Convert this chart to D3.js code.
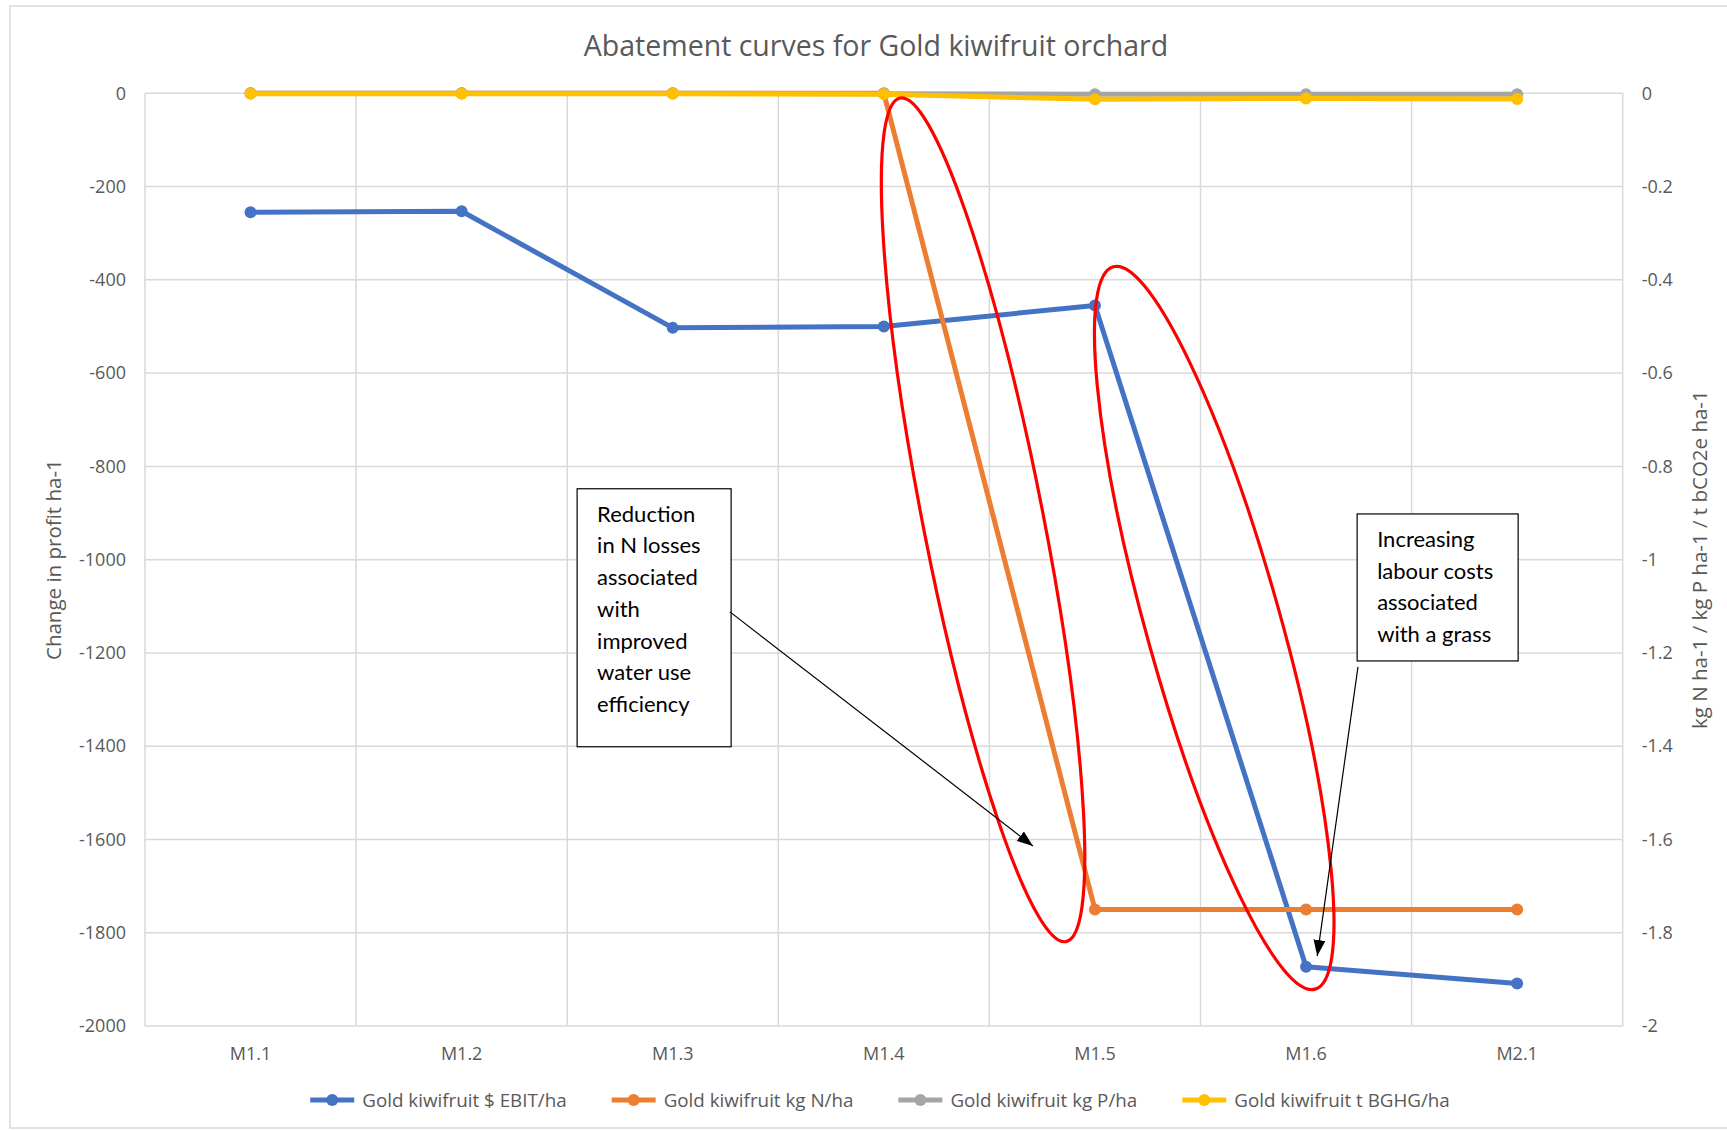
<!DOCTYPE html>
<html>
<head>
<meta charset="utf-8">
<script src="https://cdn.jsdelivr.net/npm/d3@7"></script>
<style>
body { margin: 0; background: #fff; }
text { font-family: "Open Sans", sans-serif; }
</style>
</head>
<body>
<svg id="chart" width="1727" height="1131"></svg>
<script>
var categories = ["M1.1", "M1.2", "M1.3", "M1.4", "M1.5", "M1.6", "M2.1"];
var ebit = [-255, -253, -503, -500, -455, -1873, -1909];
var kgN = [0, 0, 0, 0, -1.75, -1.75, -1.75];
var kgP = [0, 0, 0, -0.001, -0.002, -0.002, -0.002];
var bghg = [-0.001, -0.001, -0.001, -0.002, -0.013, -0.011, -0.012];
var leftTicks = d3.range(0, -2001, -200);
var rightTicks = d3.range(0, 11).map(i => -i / 5);
var seriesNames = ["Gold kiwifruit $ EBIT/ha", "Gold kiwifruit kg N/ha", "Gold kiwifruit kg P/ha", "Gold kiwifruit t BGHG/ha"];
var seriesColors = ["#4472C4", "#ED7D31", "#A5A5A5", "#FFC000"];
var chartTitle = "Abatement curves for Gold kiwifruit orchard";
var leftTitle = "Change in profit ha-1";
var rightTitle = "kg N ha-1 / kg P ha-1 / t bCO2e ha-1";

// hand drawn notes, placed in category index / left axis units
var notes = [
    {lines: ["Reduction", "in N losses", "associated", "with", "improved", "water use", "efficiency"],
     at: [1.547, -848], w: 154, h: 258, from: [2.271, -1112], to: [3.706, -1614]},
    {lines: ["Increasing", "labour costs", "associated", "with a grass"],
     at: [5.242, -902], w: 161, h: 147, from: [5.246, -1230], to: [5.053, -1850]}
];
var rings = [
    {top: [3.077, -10], bottom: [3.863, -1819], half: 60},
    {top: [4.087, -372], bottom: [5.043, -1921], half: 67}
];

var W = 1727, H = 1131;
var plotL = 145, plotR = 1622.7, plotT = 93.3, plotB = 1026;
var grey = "#d9d9d9", ink = "#595959";

var svg = d3.select("#chart");
svg.append("rect")
    .attr("x", 10).attr("y", 6)
    .attr("width", W).attr("height", H - 9)
    .style("fill", "white").style("stroke", grey).style("stroke-width", 1.5);

var x = d3.scaleBand(categories, [plotL, plotR]);
var xi = d3.scaleLinear([0, categories.length - 1],
			[x(categories[0]) + x.bandwidth() / 2, x(categories[categories.length - 1]) + x.bandwidth() / 2]);
var yL = d3.scaleLinear([-2000, 0], [plotB, plotT]);
var yR = d3.scaleLinear([-2, 0], [plotB, plotT]);

// grid
svg.append("g").selectAll("line")
    .data(leftTicks)
    .join("line")
    .attr("x1", plotL).attr("x2", plotR)
    .attr("y1", d => yL(d)).attr("y2", d => yL(d))
    .style("stroke", grey).style("stroke-width", 1.5);
svg.append("g").selectAll("line")
    .data(categories.map(c => x(c)).concat([plotR]))
    .join("line")
    .attr("x1", d => d).attr("x2", d => d)
    .attr("y1", plotT).attr("y2", plotB)
    .style("stroke", grey).style("stroke-width", 1.5);

function tidy(g) {
    g.select(".domain").remove();
    g.attr("font-family", null);
    g.selectAll("text").style("fill", ink).style("font-size", "18px");
}
svg.append("g")
    .attr("transform", "translate(" + plotL + ",0)")
    .call(d3.axisLeft(yL).tickValues(leftTicks).tickFormat(d => String(d)).tickSize(0).tickPadding(19))
    .call(tidy);
svg.append("g")
    .attr("transform", "translate(" + plotR + ",0)")
    .call(d3.axisRight(yR).tickValues(rightTicks).tickFormat(d => String(+d.toFixed(1))).tickSize(0).tickPadding(19))
    .call(tidy);
svg.append("g")
    .attr("transform", "translate(0," + plotB + ")")
    .call(d3.axisBottom(x).tickSize(0).tickPadding(21))
    .call(tidy);

svg.append("text")
    .attr("x", 876).attr("y", 56)
    .attr("text-anchor", "middle")
    .style("font-size", "28.5px").style("fill", ink)
    .text(chartTitle);
svg.append("text")
    .attr("transform", "translate(54," + (plotT + plotB) / 2 + ") rotate(-90)")
    .attr("text-anchor", "middle").attr("dy", "0.35em")
    .style("font-size", "20.5px").style("fill", ink)
    .text(leftTitle);
svg.append("text")
    .attr("transform", "translate(1700," + (plotT + plotB) / 2 + ") rotate(-90)")
    .attr("text-anchor", "middle").attr("dy", "0.35em")
    .style("font-size", "20.5px").style("fill", ink)
    .text(rightTitle);

// series
var series = [
    {values: ebit, y: yL},
    {values: kgN, y: yR},
    {values: kgP, y: yR},
    {values: bghg, y: yR}
];
series.forEach((s, k) => {
    var pts = s.values.map((v, i) => [x(categories[i]) + x.bandwidth() / 2, s.y(v)]);
    svg.append("path")
	.attr("d", d3.line()(pts))
	.style("fill", "none")
	.style("stroke", seriesColors[k])
	.style("stroke-width", 5)
	.style("stroke-linejoin", "round");
    svg.append("g").selectAll("circle")
	.data(pts)
	.join("circle")
	.attr("cx", d => d[0]).attr("cy", d => d[1])
	.attr("r", 6)
	.style("fill", seriesColors[k]);
});

// legend
var legend = svg.append("g");
var items = legend.selectAll("g")
    .data(seriesNames)
    .join("g");
items.append("line")
    .attr("x1", 0).attr("x2", 44)
    .style("stroke", (d, i) => seriesColors[i])
    .style("stroke-width", 5);
items.append("circle")
    .attr("cx", 22).attr("r", 6)
    .style("fill", (d, i) => seriesColors[i]);
items.append("text")
    .attr("x", 52).attr("dy", "0.35em")
    .style("font-size", "18.8px").style("fill", ink)
    .text(d => d);
var pos = 0, offsets = [];
items.each(function() {
    offsets.push(pos);
    pos += 52 + this.querySelector("text").getComputedTextLength() + 45;
});
pos -= 45;
items.attr("transform", (d, i) => "translate(" + offsets[i] + ",0)");
legend.attr("transform", "translate(" + (880 - pos / 2) + ",1100)");

// red rings
rings.forEach(r => {
    var a = [xi(r.top[0]), yL(r.top[1])], b = [xi(r.bottom[0]), yL(r.bottom[1])];
    var cx = (a[0] + b[0]) / 2, cy = (a[1] + b[1]) / 2;
    var len = Math.hypot(b[0] - a[0], b[1] - a[1]) / 2;
    var ang = Math.atan2(b[1] - a[1], b[0] - a[0]) * 180 / Math.PI;
    svg.append("ellipse")
	.attr("transform", "translate(" + cx + "," + cy + ") rotate(" + ang + ")")
	.attr("rx", len).attr("ry", r.half)
	.style("fill", "none").style("stroke", "#ff0000").style("stroke-width", 3.2);
});

// callouts
svg.append("defs").append("marker")
    .attr("id", "head")
    .attr("viewBox", "0 -6 16 12")
    .attr("refX", 16).attr("refY", 0)
    .attr("markerUnits", "userSpaceOnUse")
    .attr("markerWidth", 16).attr("markerHeight", 12)
    .attr("orient", "auto")
    .append("path").attr("d", "M0,-6L16,0L0,6Z").style("fill", "black");
notes.forEach(n => {
    var bx = xi(n.at[0]), by = yL(n.at[1]);
    svg.append("rect")
	.attr("x", bx).attr("y", by).attr("width", n.w).attr("height", n.h)
	.style("fill", "white").style("stroke", "black").style("stroke-width", 1.2);
    svg.append("g").selectAll("text")
	.data(n.lines)
	.join("text")
	.attr("x", bx + 20)
	.attr("y", (d, i) => by + 33 + i * 31.7)
	.style("font-family", "Lato, sans-serif")
	.style("font-size", "22px").style("fill", "black")
	.text(d => d);
    svg.append("line")
	.attr("x1", xi(n.from[0])).attr("y1", yL(n.from[1]))
	.attr("x2", xi(n.to[0])).attr("y2", yL(n.to[1]))
	.style("stroke", "black").style("stroke-width", 1.2)
	.attr("marker-end", "url(#head)");
});
</script>
</body>
</html>
